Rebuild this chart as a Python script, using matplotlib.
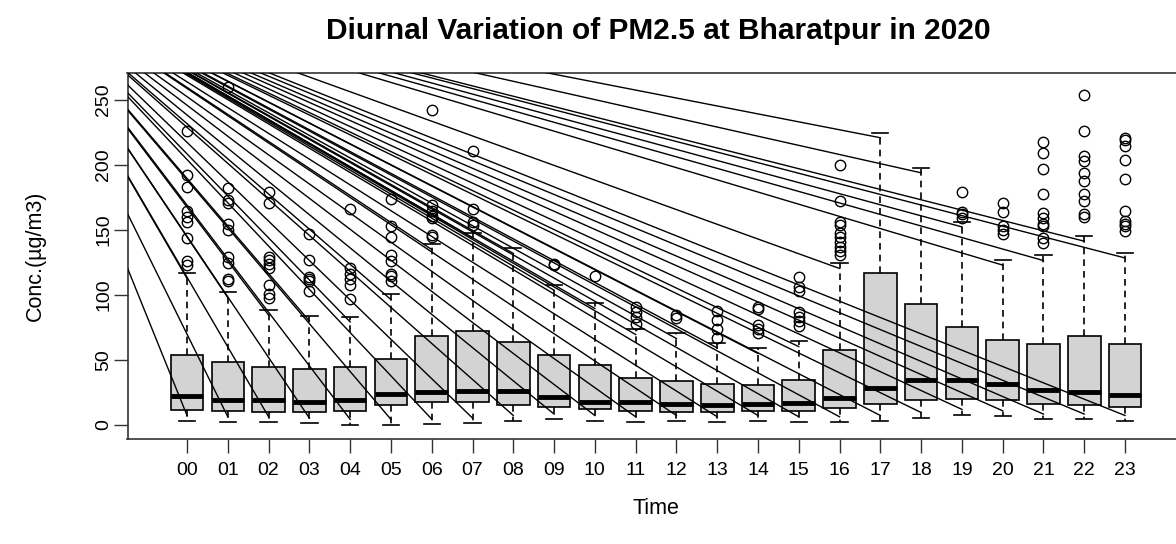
import matplotlib

matplotlib.use("Agg")
import matplotlib.pyplot as plt

plt.rcParams.update(
    {
        "font.family": ["Liberation Sans", "DejaVu Sans"],
        "font.size": 14,
    }
)

# hourly box statistics (ug/m3)
hours = [f"{h:02d}" for h in range(24)]
whislo = [3.3, 2.3, 2.3, 1.3, 0.3, 0.3, 0.5, 1.3, 3.3, 4.4, 3.3, 2.3,
          3.3, 2.3, 3.3, 2.3, 2.3, 3.3, 5.6, 8.0, 6.9, 4.4, 4.4, 3.3]
q1 = [11.8, 10.5, 9.7, 9.7, 10.5, 15.1, 18.0, 18.0, 15.0, 14.1, 12.0, 11.0,
      9.7, 9.7, 10.8, 10.8, 13.1, 16.2, 19.2, 20.3, 19.2, 16.2, 15.1, 13.8]
med = [22.3, 19.0, 19.0, 18.0, 19.0, 23.6, 25.4, 26.4, 26.4, 21.8, 18.0, 18.0,
       16.2, 15.1, 16.2, 17.2, 20.5, 28.7, 34.6, 34.9, 31.5, 26.7, 25.4, 23.3]
q3 = [53.6, 48.5, 44.4, 43.3, 44.4, 50.8, 68.5, 72.6, 64.0, 53.6, 46.4, 35.9,
      33.8, 31.8, 30.8, 34.9, 58.0, 116.7, 92.8, 75.6, 65.4, 62.0, 68.5, 62.0]
whishi = [116.7, 102.0, 88.5, 84.0, 83.3, 100.5, 139.0, 148.0, 136.0, 107.7, 93.6, 73.6,
          70.5, 63.3, 59.0, 64.3, 124.4, 225.0, 198.0, 156.4, 127.0, 130.5, 145.4, 132.5]
outliers = [
    [226, 192, 183, 165, 160, 156, 144, 126, 123],
    [260, 182, 173, 171, 155, 150, 129, 125, 112, 111],
    [179, 171, 129, 127, 124, 121, 108, 101, 98],
    [147, 127, 114, 112, 111, 103],
    [166, 121, 116, 112, 108, 97],
    [174, 153, 145, 131, 126, 116, 115, 111],
    [242, 169, 165, 161, 159, 146, 145],
    [211, 166, 156, 154],
    [],
    [124, 123],
    [115],
    [91, 87, 83, 78],
    [85, 82],
    [88, 81, 74, 67],
    [91, 89, 77, 74, 71],
    [114, 106, 103, 87, 83, 80, 76],
    [200, 172, 156, 154, 148, 145, 141, 137, 134, 131],
    [],
    [],
    [179, 164, 162, 159],
    [171, 164, 153, 150, 147],
    [218, 209, 197, 178, 163, 159, 155, 153, 144, 140],
    [254, 226, 207, 203, 194, 188, 178, 172, 162, 160],
    [221, 219, 215, 204, 189, 165, 157, 155, 153, 149],
]

# stray lines in the original all fan out from one point up-left of the plot
fan_origin = (-3.44, 352.0)
fan_inset = 4.0

W, H = 1176, 544
fig = plt.figure(figsize=(W / 100, H / 100), dpi=100)
ax = fig.add_axes([127.5 / W, 1 - 438.5 / H, 1 - 127.5 / W, (438.5 - 73) / H])

positions = list(range(1, len(hours) + 1))
stats = [
    dict(whislo=a, q1=b, med=c, q3=d, whishi=e, fliers=f)
    for a, b, c, d, e, f in zip(whislo, q1, med, q3, whishi, outliers)
]
ax.bxp(
    stats,
    positions=positions,
    widths=0.8,
    capwidths=0.4,
    patch_artist=True,
    boxprops=dict(facecolor="#D3D3D3", edgecolor="black", linewidth=1.2),
    medianprops=dict(color="black", linewidth=3.5, solid_capstyle="butt"),
    whiskerprops=dict(color="black", linewidth=1.2, linestyle=(0, (4, 3))),
    capprops=dict(color="black", linewidth=1.2),
    flierprops=dict(marker="o", markerfacecolor="none", markeredgecolor="black",
                    markersize=7.5, markeredgewidth=1.0),
)

x0, y0 = fan_origin
for p, lo, hi in zip(positions, whislo, whishi):
    for yend in (lo + fan_inset, hi - fan_inset):
        ax.plot([x0, p], [y0, yend], color="black", linewidth=1.0, zorder=4)

ax.set_xlim(-0.46, 25.25)
ax.set_ylim(-10.4, 270.8)
ax.set_xticks(positions)
ax.set_xticklabels(hours, fontsize=14)
ax.set_yticks([0, 50, 100, 150, 200, 250])
ax.set_yticklabels(["0", "50", "100", "150", "200", "250"], rotation=90,
                   va="center", fontsize=14)
ax.tick_params(axis="both", direction="out", length=10, width=1.0, color="#333333")
ax.tick_params(axis="x", pad=7)
ax.tick_params(axis="y", pad=1)
for side in ("left", "bottom", "top"):
    ax.spines[side].set_linewidth(1.2)
    ax.spines[side].set_color("#333333")
ax.spines["right"].set_visible(False)

fig.text(658 / W, 1 - 31 / H, "Diurnal Variation of PM2.5 at Bharatpur in 2020",
         ha="center", va="center", fontsize=21.5, fontweight="bold")
fig.text(656 / W, 1 - 509 / H, "Time", ha="center", va="center", fontsize=15.5)
fig.text(35 / W, 1 - 256 / H, "Conc.(µg/m3)", ha="center", va="center",
         rotation=90, fontsize=15.5)

fig.savefig("out.png", dpi=100)
